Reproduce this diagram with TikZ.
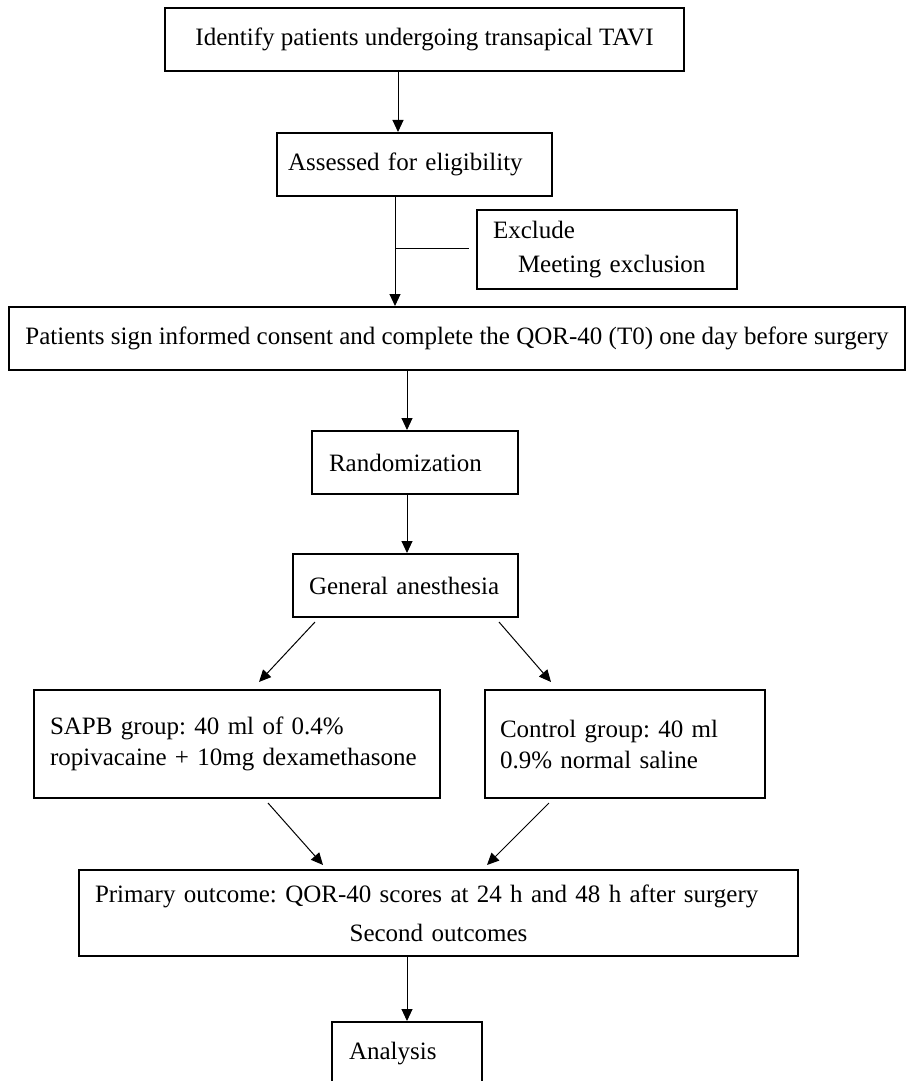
\documentclass[tikz,border=0pt]{standalone}
\usepackage{fontspec}
\setmainfont{Liberation Serif}
\usetikzlibrary{arrows.meta}
\frenchspacing
\begin{document}
\begin{tikzpicture}[x=0.5pt,y=-0.5pt,
  box/.style={draw, line width=1pt, inner ysep=0pt, font=\fontsize{12.5}{15.5}\selectfont},
  arr/.style={line width=0.5pt, -{Triangle[length=6pt,width=5.5pt]}},
  ln/.style={line width=0.5pt}]
\useasboundingbox (0,0) rectangle (907,1081);
% boxes
\node[box, minimum width=259.5pt, minimum height=31.5pt, align=center] (box1) at (424.5,39.5) {Identify patients undergoing transapical TAVI};
\node[box, inner xsep=5.5pt, text width=126.5pt, minimum height=31.5pt, align=left] (box2) at (414.5,164.5) {Assessed for eligibility};
\node[box, inner xsep=8pt, text width=114pt, minimum height=39.5pt, align=left] (excl) at (607,249.5) {Exclude\\[1.5pt]\hspace*{12.5pt}Meeting exclusion};
\node[box, minimum width=448pt, minimum height=31.5pt, align=center] (cons) at (457,338.5) {Patients sign informed consent and complete the QOR-40 (T0) one day before surgery};
\node[box, inner xsep=8.5pt, text width=86pt, minimum height=31.5pt, align=left] (rand) at (415,462.5) {Randomization};
\node[box, inner xsep=8pt, text width=96.5pt, minimum height=31.5pt, align=left] (ga) at (405.5,585.5) {General anesthesia};
\node[box, inner xsep=8pt, text width=187pt, minimum height=54pt, align=left] (sapb) at (237,744) {SAPB group: 40 ml of 0.4\%\\ropivacaine + 10mg dexamethasone};
\node[box, inner xsep=7.5pt, text width=125pt, minimum height=54pt, align=left] (ctrl) at (625,744) {Control group: 40 ml\\0.9\% normal saline};
\node[box, inner xsep=8pt, text width=343.5pt, minimum height=43pt, align=left] (prim) at (438.5,913) {Primary outcome: QOR-40 scores at 24 h and 48 h after surgery\\[4pt]\makebox[\linewidth]{Second outcomes}};
\node[box, inner xsep=8.5pt, text width=58pt, minimum height=31.5pt, align=left] (anal) at (407,1053.5) {Analysis};
% connector x positions
\coordinate (c1) at (398,0);
\coordinate (c2) at (395,0);
\coordinate (c3) at (407,0);
\coordinate (j) at (395,248);
\coordinate (je) at (469,248);
\coordinate (d1s) at (315,622);
\coordinate (d1e) at (259,682);
\coordinate (d2s) at (499,622);
\coordinate (d2e) at (551,682);
\coordinate (d3s) at (268,803);
\coordinate (d3e) at (323,865);
\coordinate (d4s) at (549,803);
\coordinate (d4e) at (487,865);
% connectors
\draw[arr] (box1.south -| c1) -- (box2.north -| c1);
\draw[arr] (box2.south -| c2) -- (cons.north -| c2);
\draw[ln] (j) -- (je);
\draw[arr] (cons.south -| c3) -- (rand.north -| c3);
\draw[arr] (rand.south -| c3) -- (ga.north -| c3);
\draw[arr] (d1s) -- (d1e);
\draw[arr] (d2s) -- (d2e);
\draw[arr] (d3s) -- (d3e);
\draw[arr] (d4s) -- (d4e);
\draw[arr] (prim.south -| c3) -- (anal.north -| c3);
\end{tikzpicture}
\end{document}
